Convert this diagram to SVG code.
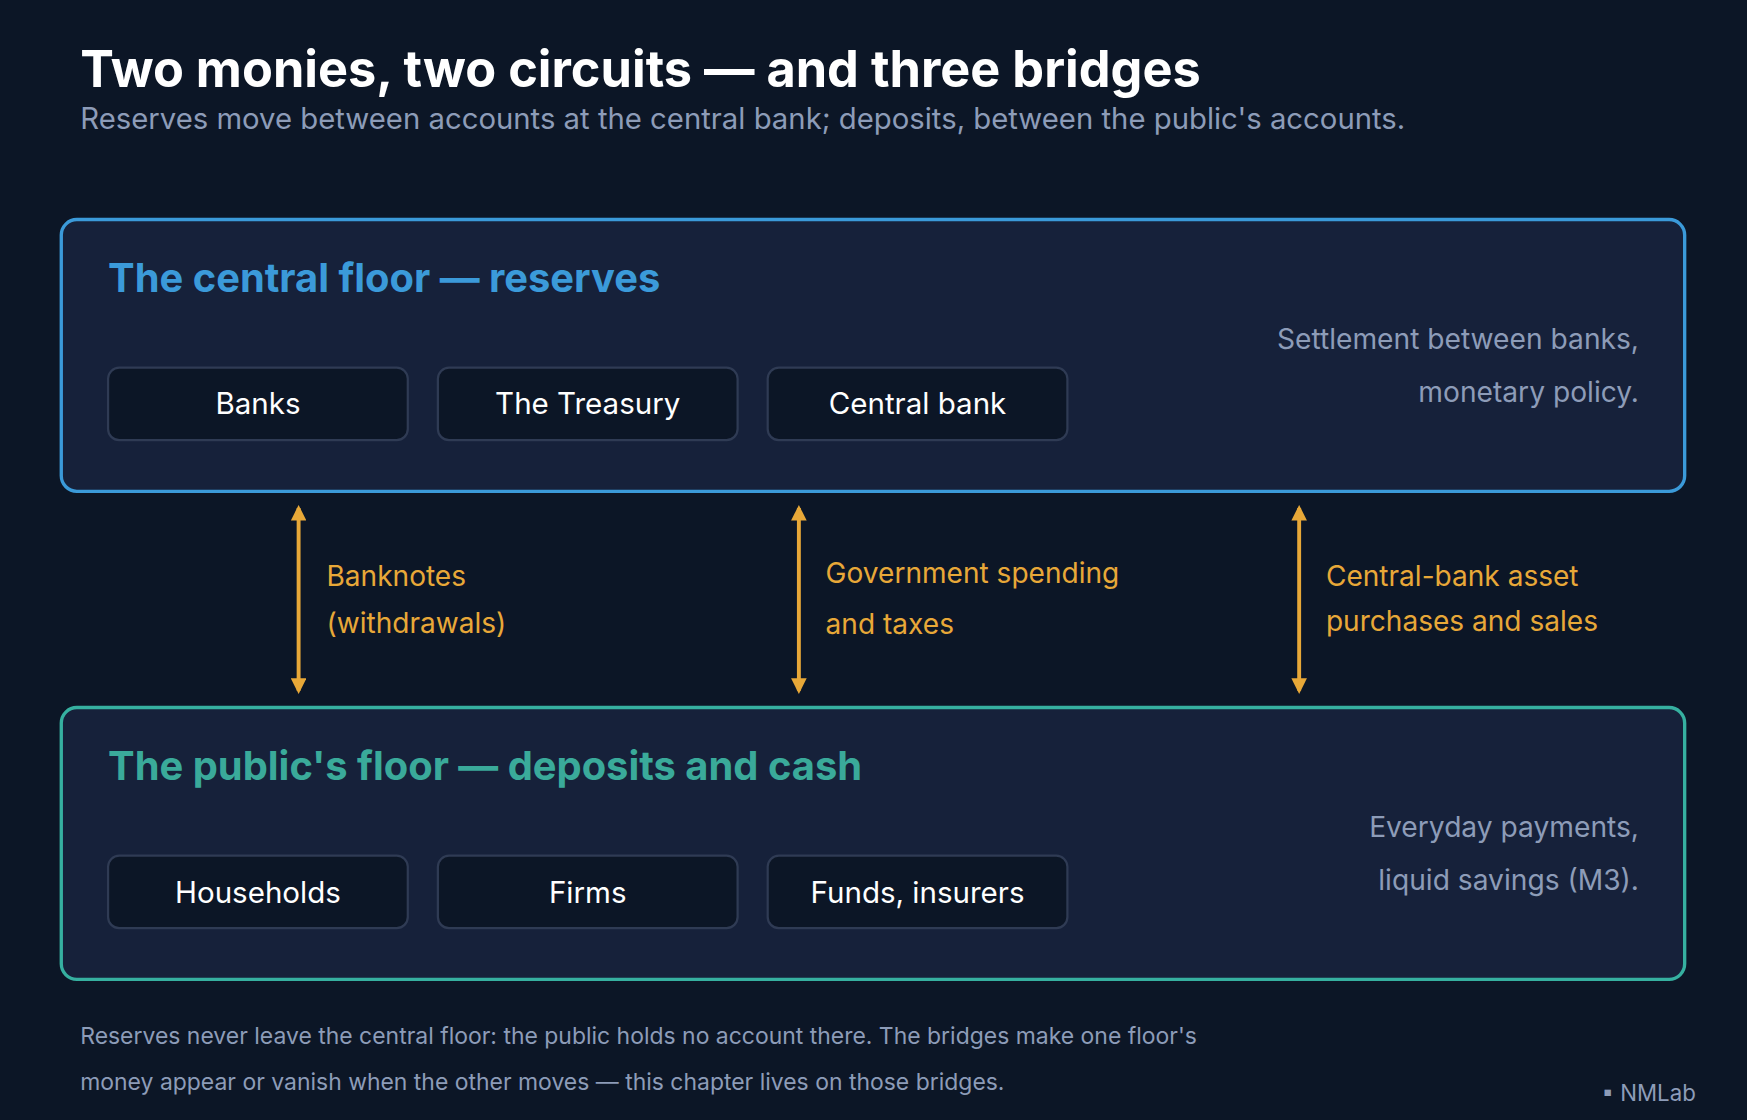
<svg xmlns="http://www.w3.org/2000/svg" width="1747" height="1120" viewBox="0 0 1747 1120">
<defs>
<style>
text{font-family:Inter,"Liberation Sans",sans-serif}
.muted{fill:#8d9cb8}
.panel{fill:#16213a;stroke-width:3}
.box{fill:#0c1626;stroke:#2f3b54;stroke-width:2}
.bt{fill:#ffffff;font-size:26.5px;text-anchor:middle}
.rt{font-size:25.3px;text-anchor:end}
.lab{fill:#e8a838;font-size:25.2px}
.arr{stroke:#e8a838;stroke-width:3.5;marker-start:url(#ah);marker-end:url(#ah)}
</style>
<marker id="ah" viewBox="0 0 10 10" refX="8" refY="5" markerWidth="4" markerHeight="4" orient="auto-start-reverse" markerUnits="strokeWidth"><path d="M0,0 L10,5 L0,10 Z" fill="#e8a838"/></marker>
</defs>
<rect width="1747" height="1120" fill="#0c1626"/>
<g transform="scale(1.1142)">
<text x="72" y="78" font-size="45.3" font-weight="700" fill="#ffffff">Two monies, two circuits — and three bridges</text>
<text x="72" y="116" font-size="26.3" class="muted">Reserves move between accounts at the central bank; deposits, between the public's accounts.</text>
<g id="central">
<rect class="panel" x="55" y="197" width="1457" height="244" rx="14" stroke="#3b9ad9"/>
<text x="97" y="262" font-size="35.8" font-weight="700" fill="#3b9ad9">The central floor — reserves</text>
<text class="rt muted" x="1471" y="313">Settlement between banks,</text>
<text class="rt muted" x="1471" y="361">monetary policy.</text>
</g>
<g id="banks"><rect class="box" x="97" y="330" width="269" height="65" rx="10"/><text class="bt" x="231.5" y="372">Banks</text></g>
<g id="treasury"><rect class="box" x="393" y="330" width="269" height="65" rx="10"/><text class="bt" x="527.5" y="372">The Treasury</text></g>
<g id="centralbank"><rect class="box" x="689" y="330" width="269" height="65" rx="10"/><text class="bt" x="823.5" y="372">Central bank</text></g>
<g id="public">
<rect class="panel" x="55" y="635" width="1457" height="244" rx="14" stroke="#36b0a0"/>
<text x="97" y="700" font-size="35.8" font-weight="700" fill="#3aaa9a">The public's floor — deposits and cash</text>
<text class="rt muted" x="1471" y="751">Everyday payments,</text>
<text class="rt muted" x="1471" y="799">liquid savings (M3).</text>
</g>
<g id="households"><rect class="box" x="97" y="768" width="269" height="65" rx="10"/><text class="bt" x="231.5" y="810">Households</text></g>
<g id="firms"><rect class="box" x="393" y="768" width="269" height="65" rx="10"/><text class="bt" x="527.5" y="810">Firms</text></g>
<g id="funds"><rect class="box" x="689" y="768" width="269" height="65" rx="10"/><text class="bt" x="823.5" y="810">Funds, insurers</text></g>
<g id="connectors">
<line class="arr" x1="268" y1="456" x2="268" y2="620"/>
<line class="arr" x1="717" y1="456" x2="717" y2="620"/>
<line class="arr" x1="1166" y1="456" x2="1166" y2="620"/>
<text class="lab" x="293" y="526">Banknotes</text>
<text class="lab" x="293" y="568">(withdrawals)</text>
<text class="lab" x="741" y="523">Government spending</text>
<text class="lab" x="741" y="569">and taxes</text>
<text class="lab" x="1190" y="526">Central-bank asset</text>
<text class="lab" x="1190" y="566">purchases and sales</text>
</g>
<text x="72" y="937" font-size="20.6" class="muted">Reserves never leave the central floor: the public holds no account there. The bridges make one floor's</text>
<text x="72" y="978" font-size="20.6" class="muted">money appear or vanish when the other moves — this chapter lives on those bridges.</text>
<text x="1522" y="988" font-size="20" class="muted" text-anchor="end">▪ NMLab</text>
</g>
</svg>
